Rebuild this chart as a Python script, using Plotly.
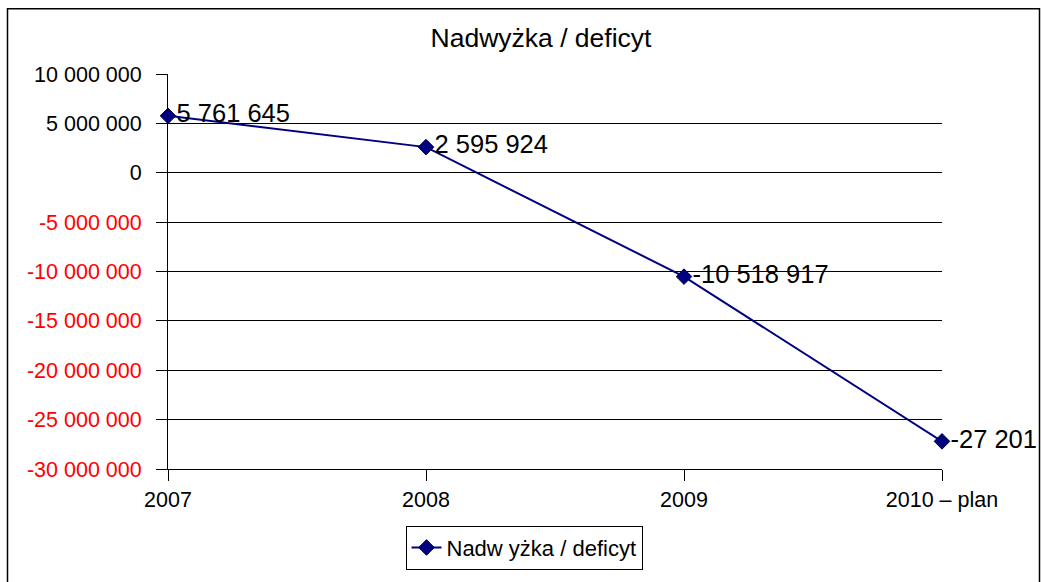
import plotly.graph_objects as go

# ---- data ----
categories = ["2007", "2008", "2009", "2010 – plan"]
values = [5761645, 2595924, -10518917, -27201000]
value_labels = ["5 761 645", "2 595 924", "-10 518 917", "-27 201"]
series_name = "Nadw yżka / deficyt"
title_text = "Nadwyżka / deficyt"
y_tick_values = [10000000, 5000000, 0, -5000000, -10000000, -15000000,
                 -20000000, -25000000, -30000000]
y_tick_labels = ["10 000 000", "5 000 000", "0", "-5 000 000", "-10 000 000",
                 "-15 000 000", "-20 000 000", "-25 000 000", "-30 000 000"]

W, H = 1041, 582
L, R, T, B = 168, 942, 74, 471  # plot area pixel bounds
FONT = "Liberation Sans, Arial, sans-serif"
NAVY = "#000080"

def px_x(px):
    return (px - L) / (R - L)

def px_y(py):
    return (B - py) / (B - T)

tick_text = [
    (f'<span style="color:#FF0000">{t}</span>' if v < 0 else t)
    for v, t in zip(y_tick_values, y_tick_labels)
]

fig = go.Figure()
fig.add_trace(go.Scatter(
    x=list(range(len(categories))),
    y=values,
    mode="lines+markers+text",
    name=series_name,
    text=value_labels,
    textposition="middle right",
    textfont=dict(family=FONT, size=25.5, color="#000000"),
    line=dict(color=NAVY, width=2),
    marker=dict(symbol="diamond", size=12, color=NAVY,
                line=dict(color="#000040", width=1)),
    cliponaxis=False,
))

fig.update_layout(
    width=W, height=H,
    margin=dict(l=L, r=W - R, t=T, b=H - B),
    paper_bgcolor="white",
    plot_bgcolor="white",
    font=dict(family=FONT, size=21.5, color="#000000"),
    title=dict(text=title_text, x=541 / W, xref="container", xanchor="center",
               y=1 - 38 / H, yref="container", yanchor="middle",
               font=dict(family=FONT, size=26.5, color="#000000")),
    showlegend=True,
    legend=dict(
        x=px_x(524), y=px_y(528), xanchor="center", yanchor="top",
        bordercolor="#000000", borderwidth=1, bgcolor="white",
        font=dict(family=FONT, size=22, color="#000000"),
        orientation="h",
    ),
    xaxis=dict(
        range=[0, len(categories) - 1],
        tickmode="array",
        tickvals=list(range(len(categories))),
        ticktext=categories,
        showgrid=False,
        zeroline=False,
        showline=True, linecolor="#000000", linewidth=1,
        ticks="outside", ticklen=11, tickcolor="#000000",
        tickfont=dict(family=FONT, size=21.5, color="#000000"),
    ),
    yaxis=dict(
        range=[-30000000, 10000000],
        tickmode="array",
        tickvals=y_tick_values,
        ticktext=tick_text,
        showgrid=True, gridcolor="#000000", gridwidth=1,
        zeroline=False,
        showline=True, linecolor="#000000", linewidth=1,
        ticks="outside", ticklen=11, tickcolor="#000000",
        ticklabelstandoff=10,
        tickfont=dict(family=FONT, size=21.5, color="#000000"),
    ),
    shapes=[
        dict(type="rect", xref="paper", yref="paper",
             x0=px_x(7.5), x1=px_x(1039.5), y0=px_y(600), y1=px_y(8.5),
             line=dict(color="#000000", width=1.5), fillcolor="rgba(0,0,0,0)",
             layer="below"),
    ],
)

fig.write_html(
    "out.html",
    config={"displayModeBar": False},
    post_script="document.body.style.margin='0px';document.body.style.overflow='hidden';",
)
